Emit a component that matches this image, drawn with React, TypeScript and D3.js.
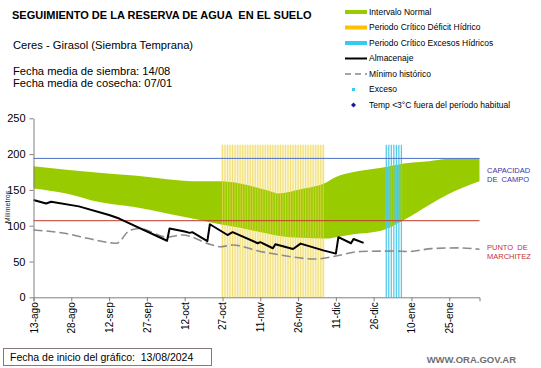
import { useEffect, useRef } from "react"
import * as d3 from "d3"

// dias desde el 13/08/2024
const tickDays = [0, 15, 30, 45, 60, 75, 90, 105, 120, 135, 150, 165]
const tickLabels = ["13-ago", "28-ago", "12-sep", "27-sep", "12-oct", "27-oct", "11-nov", "26-nov", "11-dic", "26-dic", "10-ene", "25-ene"]
const yTicks = [0, 50, 100, 150, 200, 250]

const bandDays = [0, 13, 26, 40, 53, 66, 74, 82, 94, 97, 106, 116, 120, 127, 138, 147, 157, 164, 177]
const bandLow = [152, 145, 133, 126, 117, 108, 102, 97, 88, 86, 83, 82, 84, 88, 93, 108, 129, 143, 162]
const bandHigh = [183, 178, 174, 170, 165, 162, 162, 159, 148, 145, 151, 160, 168, 175, 181, 187, 190, 193, 194]

const storeDays = [0, 5, 7, 18, 30, 34, 53, 54, 60, 62, 63, 69, 70, 77, 79, 89, 90, 95, 96, 103, 106, 115, 120, 121, 126, 127, 131]
const storeVals = [136, 131, 133.5, 127, 115, 110, 79, 96, 92, 90, 91, 78.5, 102, 87, 91, 75.5, 77, 68.5, 74, 67.5, 75, 65.5, 61, 84, 75.5, 81.5, 76]

const minDays = [0, 13, 22, 31, 33, 38, 42, 53, 59, 71, 74, 79, 90, 94, 112, 119, 130, 143, 149, 158, 169, 177]
const minVals = [94, 89, 82, 76, 75.5, 93, 96, 84, 87, 73, 70.6, 73, 64, 61.5, 53.5, 57, 64, 64.6, 64, 68, 69, 67]

const deficitDays = d3.range(75, 116)
const excessDays = d3.range(140, 147)
const fieldCapacity = 194
const wiltingPoint = 107
const criticalTop = 213

const legendItems = [
  { label: "Intervalo Normal", kind: "bar", color: "#99cc00" },
  { label: "Periodo Crítico Déficit Hídrico", kind: "bar", color: "#ffc000" },
  { label: "Periodo Crítico Excesos Hídricos", kind: "bar", color: "#33ccf0" },
  { label: "Almacenaje", kind: "line", color: "#000000" },
  { label: "Mínimo histórico", kind: "dash", color: "#888888" },
  { label: "Exceso", kind: "dot", color: "#33ccf0" },
  { label: "Temp <3°C fuera del período habitual", kind: "diamond", color: "#1a1aa0" },
]

const FONT = "'Liberation Sans', Arial, sans-serif"

export default function App() {
  const ref = useRef<SVGSVGElement>(null)

  useEffect(() => {
    const svg = d3.select(ref.current)
    svg.selectAll("*").remove()

    const x = d3.scaleLinear([0, 177], [33.5, 479.5])
    const y = d3.scaleLinear([0, 250], [297.3, 118.3])

    // periodos criticos
    svg.append("g").selectAll("line")
      .data(deficitDays)
      .join("line")
      .attr("x1", d => x(d)).attr("x2", d => x(d))
      .attr("y1", y(0)).attr("y2", y(criticalTop))
      .attr("stroke", "#fbf3c4").attr("stroke-width", 2.5)

    const bandData = bandDays.map((d, i) => ({ d, lo: bandLow[i], hi: bandHigh[i] }))
    svg.append("path")
      .attr("d", d3.area<any>()
        .x(p => x(p.d))
        .y0(p => y(p.lo))
        .y1(p => y(p.hi))
        .curve(d3.curveMonotoneX)(bandData))
      .attr("fill", "#99cc00")

    svg.append("g").selectAll("line")
      .data(deficitDays)
      .join("line")
      .attr("x1", d => x(d)).attr("x2", d => x(d))
      .attr("y1", y(0)).attr("y2", y(criticalTop))
      .attr("stroke", "#eed65a").attr("stroke-width", 1).attr("opacity", 0.7)

    svg.append("g").selectAll("line")
      .data(excessDays)
      .join("line")
      .attr("x1", d => x(d)).attr("x2", d => x(d))
      .attr("y1", y(0)).attr("y2", y(criticalTop))
      .attr("stroke", "#55cdea").attr("stroke-width", 1.3)

    // capacidad de campo y punto de marchitez
    svg.append("line")
      .attr("x1", x(0)).attr("x2", x(177))
      .attr("y1", y(fieldCapacity)).attr("y2", y(fieldCapacity))
      .attr("stroke", "#4a6fc8").attr("stroke-width", 1)
    svg.append("line")
      .attr("x1", x(0)).attr("x2", x(177))
      .attr("y1", y(wiltingPoint)).attr("y2", y(wiltingPoint))
      .attr("stroke", "#c0392b").attr("stroke-width", 1)

    const minData = minDays.map((d, i) => [x(d), y(minVals[i])] as [number, number])
    svg.append("path")
      .attr("d", d3.line().curve(d3.curveMonotoneX)(minData))
      .attr("fill", "none").attr("stroke", "#8c8c8c")
      .attr("stroke-width", 1.6).attr("stroke-dasharray", "9,4")

    const storeData = storeDays.map((d, i) => [x(d), y(storeVals[i])] as [number, number])
    svg.append("path")
      .attr("d", d3.line()(storeData))
      .attr("fill", "none").attr("stroke", "#000")
      .attr("stroke-width", 2).attr("stroke-linejoin", "round")

    // ejes
    const gx = svg.append("g").attr("transform", `translate(0,${y(0)})`)
      .call(d3.axisBottom(x).tickValues(tickDays).tickSize(4).tickFormat((_, i) => tickLabels[i]))
    gx.select(".domain").attr("stroke", "#808080")
    gx.selectAll(".tick line").attr("stroke", "#808080")
    gx.selectAll(".tick text")
      .attr("transform", "rotate(-90)")
      .attr("text-anchor", "end")
      .attr("x", -5).attr("y", 0).attr("dy", "0.35em")
      .attr("font-size", 10).attr("font-family", FONT).attr("fill", "#000")

    const gy = svg.append("g").attr("transform", `translate(${x(0)},0)`)
      .call(d3.axisLeft(y).tickValues(yTicks).tickSize(4).tickSizeOuter(0))
    gy.select(".domain").attr("stroke", "#808080")
    gy.selectAll(".tick line").attr("stroke", "#808080")
    gy.selectAll(".tick text")
      .attr("x", -8)
      .attr("font-size", 11).attr("font-family", FONT).attr("fill", "#000")

    svg.append("text")
      .attr("transform", `translate(10,207) rotate(-90)`)
      .attr("text-anchor", "middle")
      .attr("font-size", 7).attr("font-family", FONT).attr("fill", "#222")
      .text("Milímetros")

    // etiquetas a la derecha
    const rightLabels = [
      { t: "CAPACIDAD", yy: 173, c: "#3535a8" },
      { t: "DE  CAMPO", yy: 182, c: "#3535a8" },
      { t: "PUNTO  DE", yy: 250, c: "#cc3030" },
      { t: "MARCHITEZ", yy: 259, c: "#cc3030" },
    ]
    svg.append("g").selectAll("text")
      .data(rightLabels)
      .join("text")
      .attr("x", 487).attr("y", d => d.yy)
      .attr("font-size", 7.5).attr("font-family", FONT).attr("fill", d => d.c)
      .style("white-space", "pre")
      .text(d => d.t)

    // titulos
    svg.append("text")
      .attr("x", 12).attr("y", 19)
      .attr("font-size", 11).attr("font-weight", "bold").attr("font-family", FONT)
      .text("SEGUIMIENTO DE LA RESERVA DE AGUA  EN EL SUELO")
      .style("white-space", "pre")
    svg.append("text")
      .attr("x", 13).attr("y", 49)
      .attr("font-size", 11.2).attr("font-family", FONT)
      .text("Ceres - Girasol (Siembra Temprana)")
    svg.append("text")
      .attr("x", 13).attr("y", 75)
      .attr("font-size", 11.2).attr("font-family", FONT)
      .text("Fecha media de siembra: 14/08")
    svg.append("text")
      .attr("x", 13).attr("y", 87)
      .attr("font-size", 11.2).attr("font-family", FONT)
      .text("Fecha media de cosecha: 07/01")

    // leyenda
    const lg = svg.append("g").selectAll("g")
      .data(legendItems)
      .join("g")
      .attr("transform", (_, i) => `translate(345,${12 + i * 15.5})`)
    lg.each(function (d) {
      const g = d3.select(this)
      if (d.kind === "bar") {
        g.append("rect").attr("x", 0).attr("y", -2).attr("width", 22).attr("height", 4).attr("fill", d.color)
      } else if (d.kind === "line") {
        g.append("line").attr("x1", 0).attr("x2", 22).attr("stroke", d.color).attr("stroke-width", 2)
      } else if (d.kind === "dash") {
        g.append("line").attr("x1", 0).attr("x2", 22).attr("stroke", d.color)
          .attr("stroke-width", 1.5).attr("stroke-dasharray", "6,4")
      } else if (d.kind === "dot") {
        g.append("rect").attr("x", 7).attr("y", -1.5).attr("width", 3).attr("height", 3).attr("fill", d.color)
      } else {
        g.append("path").attr("d", "M8.5,-2.5L11,0L8.5,2.5L6,0Z").attr("fill", d.color)
      }
    })
    lg.append("text")
      .attr("x", 24)
      .attr("dy", "0.35em")
      .attr("font-size", 8.5).attr("font-family", FONT).attr("fill", "#000")
      .text(d => d.label)

    // pie
    svg.append("rect")
      .attr("x", 3.5).attr("y", 348.5).attr("width", 208).attr("height", 17)
      .attr("fill", "#fff").attr("stroke", "#8a7676").attr("stroke-width", 1)
    svg.append("text")
      .attr("x", 10).attr("y", 361)
      .attr("font-size", 10.5).attr("font-family", FONT)
      .style("white-space", "pre")
      .text("Fecha de inicio del gráfico:  13/08/2024")
    svg.append("text")
      .attr("x", 516).attr("y", 363).attr("text-anchor", "end")
      .attr("font-size", 9.5).attr("font-weight", "bold").attr("font-family", FONT).attr("fill", "#707070")
      .text("WWW.ORA.GOV.AR")
  }, [])

  return (
    <div style={{ position: "fixed", left: 0, top: 0 }}>
      <svg ref={ref} width={541} height={368} style={{ display: "block", background: "#fff" }} />
    </div>
  )
}
